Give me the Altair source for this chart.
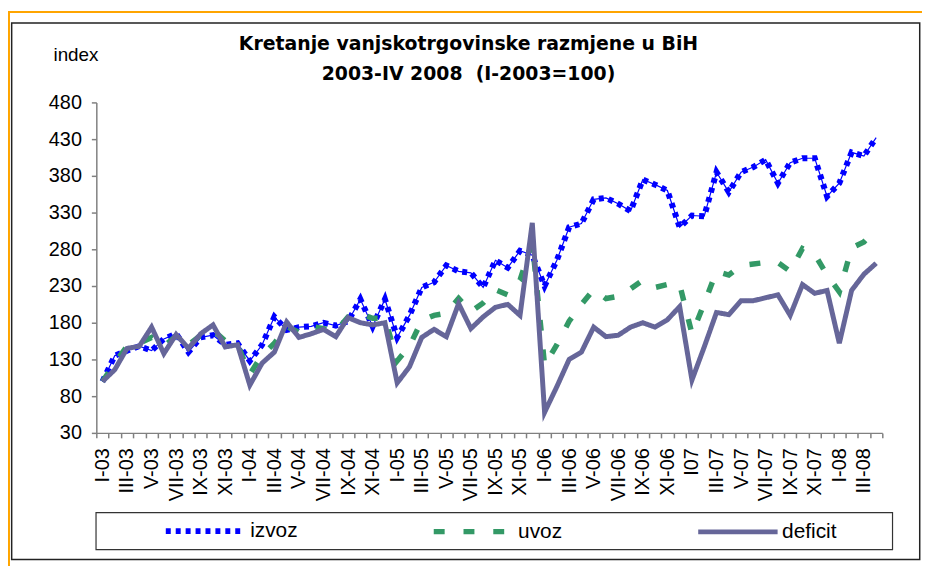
import json
import altair as alt
import pandas as pd

roman = ["I", "II", "III", "IV", "V", "VI", "VII", "VIII", "IX", "X", "XI", "XII"]
years = ["03", "04", "05", "06", "07", "08"]
months = [f"{r}-{y}" for y in years for r in roman][:64]
months[48] = "I07"
shown = months[::2]

izvoz = [100, 135, 142, 148, 142, 158, 165, 140, 160, 163, 150, 152,
         128, 150, 188, 170, 174, 175, 180, 176, 182, 212, 175, 212,
         160, 190, 228, 235, 258, 250, 248, 228, 265, 255, 278, 272,
         230, 265, 310, 315, 348, 350, 342, 332, 375, 368, 360, 310,
         326, 325, 385, 358, 385, 392, 402, 370, 398, 404, 404, 352,
         370, 412, 407, 432]
uvoz = [100, 125, 148, 152, 160, 148, 162, 150, 163, 170, 155, 150,
        110, 136, 152, 175, 167, 175, 172, 168, 188, 192, 186, 186,
        128, 148, 183, 190, 193, 213, 195, 207, 225, 218, 238, 290,
        122, 150, 182, 205, 225, 213, 216, 226, 238, 228, 232, 232,
        165, 206, 250, 245, 258, 260, 262, 262, 250, 281, 273, 245,
        222, 282, 290, 308]
deficit = [100, 116, 145, 148, 174, 138, 164, 145, 165, 177, 147, 150,
           95, 125, 140, 181, 160, 165, 171, 161, 187, 180, 177, 180,
           98, 120, 160, 171, 161, 206, 172, 188, 201, 205, 190, 316,
           58, 93, 130, 140, 174, 161, 163, 174, 180, 174, 184, 202,
           102, 147, 194, 191, 210, 210, 214, 218, 190, 232, 220, 224,
           152, 224, 246, 261]

series = ["izvoz", "uvoz", "deficit"]
colors = ["#0000FF", "#339966", "#666699"]
dashes = [[5, 5], [11, 19], [1, 0]]
widths = [6, 5, 4]
yticks = [30, 80, 130, 180, 230, 280, 330, 380, 430, 480]
title1 = "Kretanje vanjskotrgovinske razmjene u BiH"
title2 = "2003-IV 2008\u00a0 (I-2003=100)"

rows = []
for name, vals in zip(series, [izvoz, uvoz, deficit]):
    for m, v in zip(months, vals):
        rows.append({"month": m, "series": name, "value": v})
df = pd.DataFrame(rows)

FONT = "Liberation Sans"
GRAY = "#808080"

x_enc = alt.X(
    "month:N", sort=months,
    scale=alt.Scale(type="band", paddingInner=0, paddingOuter=0),
    axis=alt.Axis(
        title=None,
        labelExpr=f"indexof({json.dumps(shown)}, datum.value) >= 0 ? datum.value : ''",
        labelAngle=270, labelFontSize=20, labelFont=FONT, labelColor="black",
        labelPadding=10, labelOverlap=False, tickBand="extent", tickSize=5,
        tickColor=GRAY, tickWidth=1.5, domainColor=GRAY, domainWidth=1.5, grid=False,
    ),
)
y_enc = alt.Y(
    "value:Q",
    scale=alt.Scale(domain=[30, 480], nice=False, zero=False),
    axis=alt.Axis(
        title="index", titleAngle=0, titleX=-21, titleY=-48, titleAlign="center",
        titleBaseline="middle", titleFont=FONT, titleFontSize=19,
        titleFontWeight="normal", titleColor="black",
        values=yticks, labelFontSize=20, labelFont=FONT, labelColor="black",
        labelPadding=10, tickSize=5, tickColor=GRAY, tickWidth=1.5,
        domainColor=GRAY, domainWidth=1.5, grid=False,
    ),
)

leg = dict(
    title=None, orient="none", legendX=67, legendY=389, direction="horizontal",
    symbolType="stroke", symbolSize=6400, symbolStrokeWidth=5,
    labelFontSize=21, labelFont=FONT, labelColor="black", labelOffset=2,
    columnPadding=126, padding=0,
)

base = alt.Chart(df)

thin = base.transform_filter(alt.datum.series == "izvoz").mark_line(
    color="#0000FF", strokeWidth=1.2
).encode(x=x_enc, y=y_enc)

lines = base.mark_line().encode(
    x=x_enc,
    y=y_enc,
    color=alt.Color("series:N", scale=alt.Scale(domain=series, range=colors),
                    legend=alt.Legend(**leg)),
    strokeDash=alt.StrokeDash("series:N", scale=alt.Scale(domain=series, range=dashes),
                              legend=alt.Legend(**leg)),
    strokeWidth=alt.StrokeWidth("series:N", scale=alt.Scale(domain=series, range=widths),
                                legend=None),
)

fdf = pd.DataFrame({"k": [0]})
orange = alt.Chart(fdf).mark_rect(fillOpacity=0, stroke="#FFA500", strokeWidth=2).encode(
    x=alt.value(-88), x2=alt.value(900), y=alt.value(-91), y2=alt.value(600))
black = alt.Chart(fdf).mark_rect(fillOpacity=0, stroke="#222222", strokeWidth=1.5).encode(
    x=alt.value(-85.3), x2=alt.value(829.7), y=alt.value(-80), y2=alt.value(460.7))
legbox = alt.Chart(fdf).mark_rect(fillOpacity=0, stroke="#333333", strokeWidth=1.2).encode(
    x=alt.value(-0.3), x2=alt.value(802.3), y=alt.value(413.3), y2=alt.value(450.7))
t1 = alt.Chart(fdf).mark_text(
    text=title1, font="DejaVu Sans", fontSize=19, fontWeight="bold", color="black",
    align="center", baseline="middle").encode(x=alt.value(375), y=alt.value(-59))
t2 = alt.Chart(fdf).mark_text(
    text=title2, font="DejaVu Sans", fontSize=19, fontWeight="bold", color="black",
    align="center", baseline="middle").encode(x=alt.value(375), y=alt.value(-29))

chart = alt.layer(orange, black, legbox, t1, t2, thin, lines).properties(
    width=792, height=333,
    padding={"left": 89, "top": 93, "right": 40, "bottom": 132},
    autosize=alt.AutoSizeParams(type="none"),
    background="white",
).configure_view(stroke=None)

chart.save("out.html", embed_options={"renderer": "svg", "actions": False})
